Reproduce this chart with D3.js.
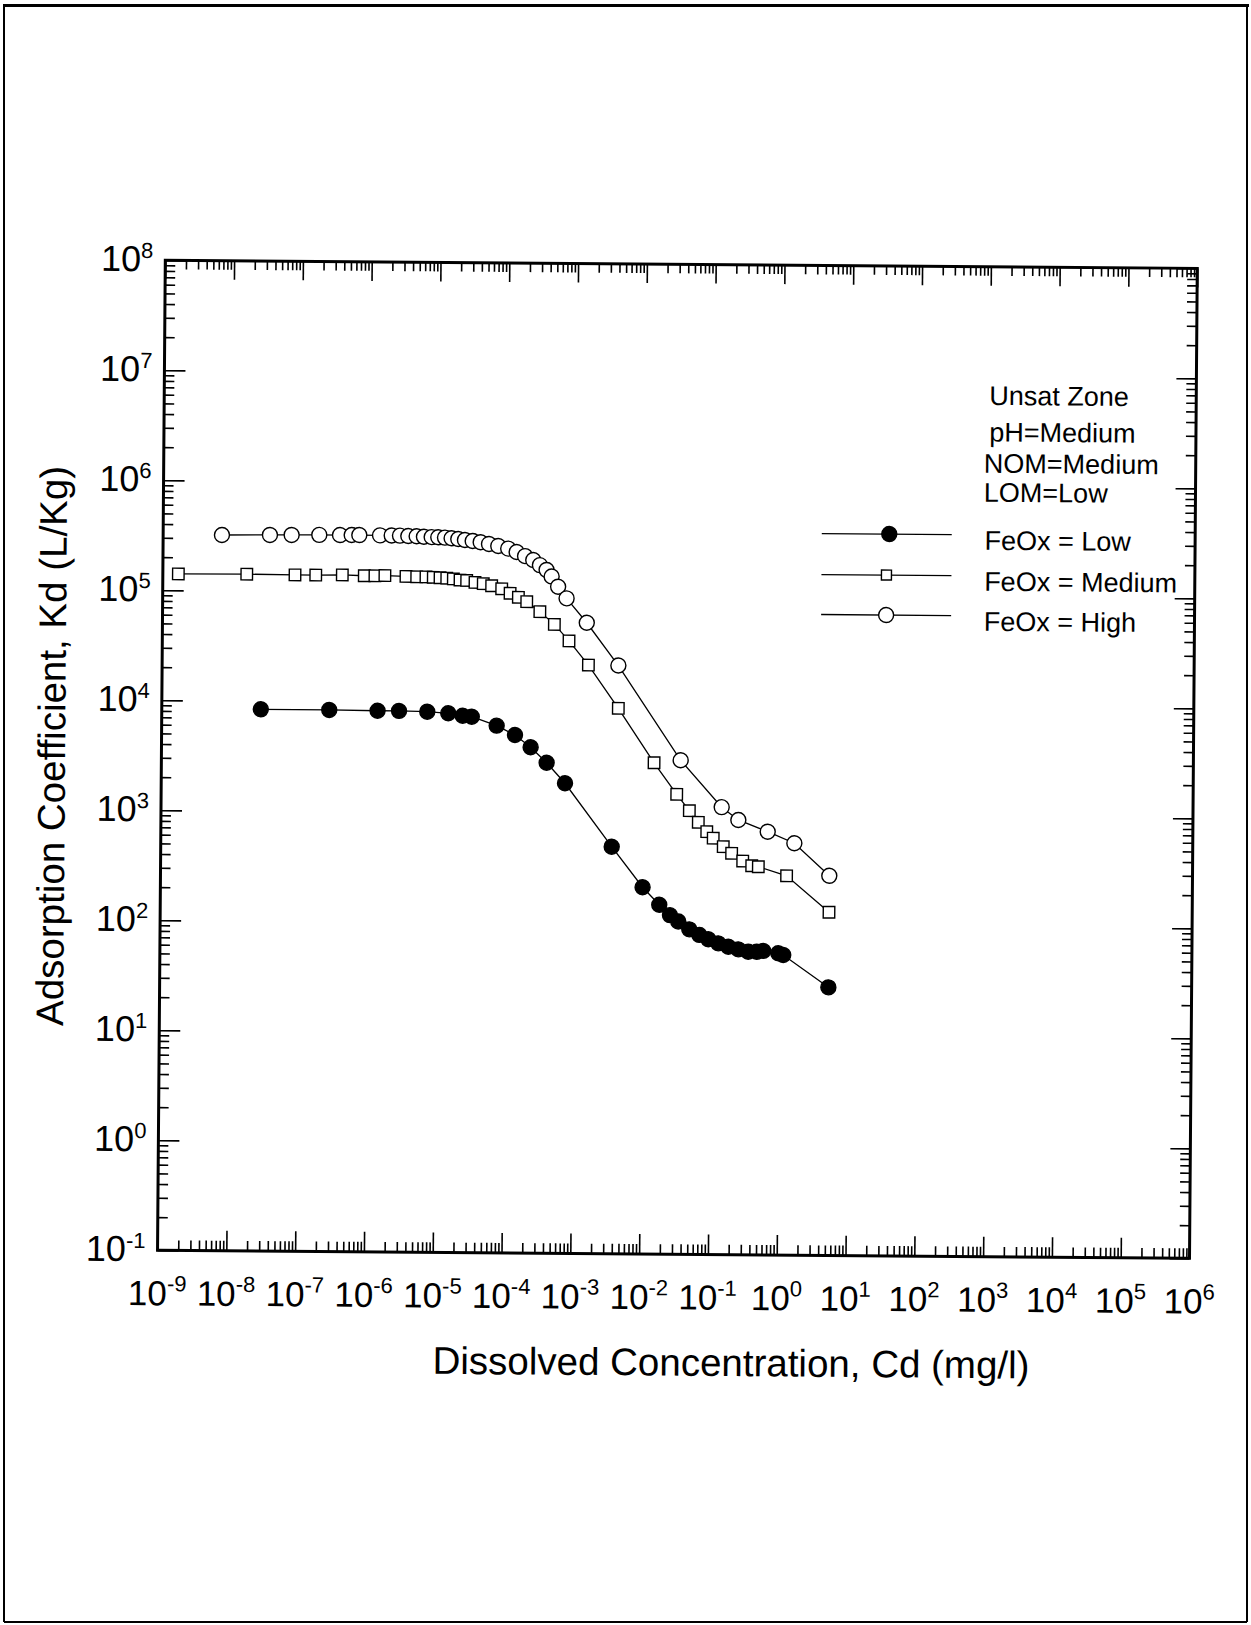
<!DOCTYPE html>
<html>
<head>
<meta charset="utf-8">
<script src="https://cdn.jsdelivr.net/npm/d3@7"></script>
<style>
body { margin: 0; background: #fff; }
svg { display: block; }
</style>
</head>
<body>
<div class="canvas"></div>
<script>
var width = 1251,
	height = 1625;

// FeOx = Low (filled circles)
var low_x = [2.75e-8, 2.72e-7, 1.37e-6, 2.81e-6, 7.23e-6, 1.46e-5, 2.37e-5, 3.21e-5, 7.40e-5, 1.37e-4,
	2.32e-4, 3.98e-4, 7.40e-4, 3.59e-3, 1.02e-2, 1.79e-2, 2.57e-2, 3.40e-2, 4.92e-2, 6.90e-2,
	9.33e-2, 1.30e-1, 1.83e-1, 2.55e-1, 3.56e-1, 4.72e-1, 5.89e-1, 9.73e-1, 1.15, 5.25];
var low_y = [8.41e3, 8.39e3, 8.32e3, 8.32e3, 8.22e3, 7.98e3, 7.60e3, 7.46e3, 6.21e3, 5.12e3,
	3.97e3, 2.88e3, 1.88e3, 502, 216, 150, 121, 106, 90.2, 80.4,
	73.5, 67.6, 63.1, 59.8, 57.0, 57.0, 58.1, 55.5, 53.5, 27.4];

// FeOx = Medium (open squares)
var med_x = [1.68e-9, 1.66e-8, 8.34e-8, 1.67e-7, 4.06e-7, 8.47e-7, 1.21e-6, 1.69e-6, 3.42e-6, 4.90e-6,
	6.68e-6, 8.53e-6, 1.07e-5, 1.34e-5, 1.67e-5, 2.09e-5, 2.61e-5, 3.45e-5, 4.55e-5, 6.03e-5,
	8.45e-5, 1.12e-4, 1.48e-4, 1.96e-4, 3.05e-4, 4.97e-4, 8.15e-4, 1.57e-3, 4.32e-3, 1.45e-2,
	3.12e-2, 4.78e-2, 6.47e-2, 8.61e-2, 1.07e-1, 1.50e-1, 1.99e-1, 2.89e-1, 3.91e-1, 4.88e-1,
	1.26, 5.26];
var med_y = [1.41e5, 1.42e5, 1.41e5, 1.41e5, 1.42e5, 1.40e5, 1.40e5, 1.41e5, 1.39e5, 1.38e5,
	1.38e5, 1.37e5, 1.36e5, 1.35e5, 1.33e5, 1.30e5, 1.29e5, 1.24e5, 1.21e5, 1.16e5,
	1.09e5, 9.93e4, 9.14e4, 8.36e4, 6.79e4, 5.22e4, 3.70e4, 2.24e4, 9.10e3, 2.93e3,
	1.52e3, 1.08e3, 849, 698, 610, 512, 446, 380, 345, 338,
	281, 132];

// FeOx = High (open circles)
var high_x = [7.16e-9, 3.57e-8, 7.38e-8, 1.86e-7, 3.72e-7, 5.50e-7, 7.10e-7, 1.42e-6, 2.10e-6, 2.77e-6,
	3.66e-6, 4.84e-6, 6.18e-6, 8.00e-6, 9.98e-6, 1.25e-5, 1.56e-5, 1.95e-5, 2.44e-5, 3.16e-5,
	4.13e-5, 5.46e-5, 7.45e-5, 1.04e-4, 1.38e-4, 1.83e-4, 2.41e-4, 3.02e-4, 3.78e-4, 4.48e-4,
	5.58e-4, 7.43e-4, 1.47e-3, 4.28e-3, 3.53e-2, 1.41e-1, 2.47e-1, 6.62e-1, 1.62, 5.26];
var high_y = [3.21e5, 3.24e5, 3.25e5, 3.27e5, 3.27e5, 3.28e5, 3.28e5, 3.27e5, 3.27e5, 3.26e5,
	3.24e5, 3.23e5, 3.20e5, 3.18e5, 3.17e5, 3.15e5, 3.11e5, 3.07e5, 3.01e5, 2.95e5,
	2.88e5, 2.78e5, 2.67e5, 2.53e5, 2.36e5, 2.17e5, 2.00e5, 1.80e5, 1.63e5, 1.42e5,
	1.15e5, 9.02e4, 5.43e4, 2.23e4, 3.10e3, 1.17e3, 897, 705, 556, 283];

// tick labels (powers of ten)
var x_exp = ["-9", "-8", "-7", "-6", "-5", "-4", "-3", "-2", "-1", "0", "1", "2", "3", "4", "5", "6"];
var y_exp = ["-1", "0", "1", "2", "3", "4", "5", "6", "7", "8"];

var notes = ["Unsat Zone", "pH=Medium", "NOM=Medium", "LOM=Low"];
var legend_labels = ["FeOx = Low", "FeOx = Medium", "FeOx = High"];

var font = "'Liberation Sans', Arial, Helvetica, sans-serif";

var svg = d3.select(".canvas")
	.append("svg")
	.attr("width", width)
	.attr("height", height)
	.style("font-family", font);

svg.append("rect").attr("width", width).attr("height", height).attr("fill", "white");

// page border
svg.append("line").attr("x1", 3).attr("x2", 1249).attr("y1", 5.5).attr("y2", 5.5)
	.attr("stroke", "black").attr("stroke-width", 3);
svg.append("line").attr("x1", 4).attr("x2", 4).attr("y1", 5).attr("y2", 1622)
	.attr("stroke", "black").attr("stroke-width", 2);
svg.append("line").attr("x1", 1247).attr("x2", 1247).attr("y1", 5).attr("y2", 1622)
	.attr("stroke", "black").attr("stroke-width", 2);
svg.append("line").attr("x1", 4).attr("x2", 1247).attr("y1", 1622).attr("y2", 1622)
	.attr("stroke", "black").attr("stroke-width", 2);

var p_left = 161.4, p_right = 1193.4, p_top = 264.3, p_bottom = 1254.3;
var cx = (p_left + p_right) / 2, cy = (p_top + p_bottom) / 2;

// the scanned figure is slightly tilted
var plot = svg.append("g")
	.attr("transform", "rotate(0.45," + cx + "," + cy + ")");

var scale_x = d3.scaleLog()
	.domain([1e-9, 1e6])
	.range([p_left, p_right]);

var scale_y = d3.scaleLog()
	.domain([1e-1, 1e8])
	.range([p_bottom, p_top]);

function majors(lo, hi) {
	return d3.range(lo, hi + 1).map(function(k) { return Math.pow(10, k); });
}
function minors(lo, hi) {
	var out = [];
	for (var k = lo; k < hi; k++) {
		for (var m = 2; m <= 9; m++) out.push(m * Math.pow(10, k));
	}
	return out;
}

/* ---------- axes ---------- */
function drawAxis(axis, tx, ty, len) {
	var g = plot.append("g")
		.attr("transform", "translate(" + tx + "," + ty + ")")
		.call(axis.tickSize(len).tickSizeOuter(0).tickFormat(""));
	g.select(".domain").remove();
	g.selectAll(".tick line").attr("stroke", "black").attr("stroke-width", 1.6);
}

drawAxis(d3.axisBottom(scale_x).tickValues(majors(-9, 6)), 0, p_bottom, -20);
drawAxis(d3.axisBottom(scale_x).tickValues(minors(-9, 6)), 0, p_bottom, -10);
drawAxis(d3.axisTop(scale_x).tickValues(majors(-9, 6)), 0, p_top, -19);
drawAxis(d3.axisTop(scale_x).tickValues(minors(-9, 6)), 0, p_top, -9);
drawAxis(d3.axisLeft(scale_y).tickValues(majors(-1, 8)), p_left, 0, -21);
drawAxis(d3.axisLeft(scale_y).tickValues(minors(-1, 8)), p_left, 0, -10);
drawAxis(d3.axisRight(scale_y).tickValues(majors(-1, 8)), p_right, 0, -20);
drawAxis(d3.axisRight(scale_y).tickValues(minors(-1, 8)), p_right, 0, -10);

plot.append("rect")
	.attr("x", p_left)
	.attr("y", p_top)
	.attr("width", p_right - p_left)
	.attr("height", p_bottom - p_top)
	.attr("fill", "none")
	.attr("stroke", "black")
	.attr("stroke-width", 3);

// x tick labels
plot.selectAll(".xlab")
	.data(x_exp)
	.enter().append("text")
	.attr("class", "xlab")
	.attr("x", function(d) { return scale_x(Math.pow(10, +d)); })
	.attr("y", p_bottom + 55)
	.attr("text-anchor", "middle")
	.attr("font-size", 35)
	.each(function(d) {
		var t = d3.select(this);
		t.append("tspan").text("10");
		t.append("tspan").attr("dy", -14).attr("font-size", 22).text(d);
	});

// y tick labels
plot.selectAll(".ylab")
	.data(y_exp)
	.enter().append("text")
	.attr("class", "ylab")
	.attr("x", p_left - 12)
	.attr("y", function(d) { return scale_y(Math.pow(10, +d)) + 11; })
	.attr("text-anchor", "end")
	.attr("font-size", 36)
	.each(function(d) {
		var t = d3.select(this);
		t.append("tspan").text("10");
		t.append("tspan").attr("dy", -13).attr("font-size", 22).text(d);
	});

// axis titles
plot.append("text")
	.attr("x", 735.8)
	.attr("y", 1375.6)
	.attr("text-anchor", "middle")
	.attr("font-size", 38.5)
	.text("Dissolved Concentration, Cd (mg/l)");

plot.append("text")
	.attr("transform", "translate(65,750.8) rotate(-90)")
	.attr("text-anchor", "middle")
	.attr("font-size", 38.5)
	.text("Adsorption Coefficient, Kd (L/Kg)");

/* ---------- series ---------- */
var series = [
	{ xs: low_x, ys: low_y, marker: "dot" },
	{ xs: med_x, ys: med_y, marker: "square" },
	{ xs: high_x, ys: high_y, marker: "circle" }
];

var line = d3.line()
	.x(function(d) { return scale_x(d[0]); })
	.y(function(d) { return scale_y(d[1]); });

function drawMarker(g, type, px, py, big) {
	if (type === "square") {
		var s = big ? 11.5 : 10;
		g.append("rect")
			.attr("x", px - s / 2).attr("y", py - s / 2)
			.attr("width", s).attr("height", s)
			.attr("fill", "white").attr("stroke", "black").attr("stroke-width", 1.4);
	} else {
		g.append("circle")
			.attr("cx", px).attr("cy", py).attr("r", 7.5)
			.attr("fill", type === "dot" ? "black" : "white")
			.attr("stroke", "black").attr("stroke-width", 1.4);
	}
}

series.forEach(function(s) {
	var pts = s.xs.map(function(v, i) { return [v, s.ys[i]]; });
	plot.append("path")
		.datum(pts)
		.attr("d", line)
		.attr("fill", "none")
		.attr("stroke", "black")
		.attr("stroke-width", 1.3);
	var g = plot.append("g");
	pts.forEach(function(p) {
		drawMarker(g, s.marker, scale_x(p[0]), scale_y(p[1]), true);
	});
});

/* ---------- legend ---------- */
var noteY = [402.5, 439, 470.3, 499.3];
var noteX = [986.5, 986.7, 981.6, 981.8];
plot.selectAll(".note")
	.data(notes)
	.enter().append("text")
	.attr("x", function(d, i) { return noteX[i]; })
	.attr("y", function(d, i) { return noteY[i]; })
	.attr("font-size", 27)
	.text(function(d) { return d; });

var legY = [532.4, 573.4, 613.4];
series.forEach(function(s, i) {
	plot.append("line")
		.attr("x1", 820).attr("x2", 950)
		.attr("y1", legY[i]).attr("y2", legY[i])
		.attr("stroke", "black").attr("stroke-width", 1.3);
	drawMarker(plot, s.marker, i === 0 ? 887.5 : 885, legY[i], false);
	plot.append("text")
		.attr("x", 982.8)
		.attr("y", legY[i] + 15)
		.attr("font-size", 27)
		.text(legend_labels[i]);
});
</script>
</body>
</html>
